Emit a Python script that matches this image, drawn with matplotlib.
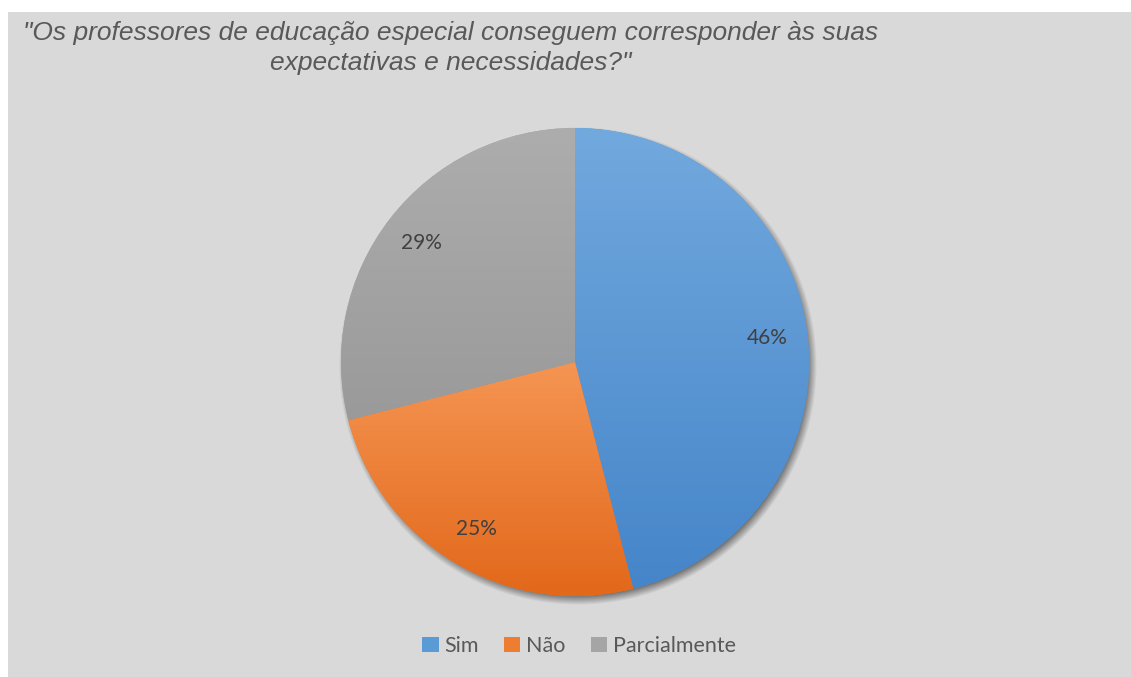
import numpy as np
import matplotlib
matplotlib.use('Agg')
import matplotlib.pyplot as plt
from matplotlib.patches import Rectangle
from matplotlib.colors import LinearSegmentedColormap

categories = ['Sim', 'Não', 'Parcialmente']
values = [46, 25, 29]
title = '"Os professores de educação especial conseguem corresponder às suas\nexpectativas e necessidades?"'

top_colors = ['#72a9de', '#f59553', '#adadad']
bottom_colors = ['#4585c9', '#e2681a', '#9a9a9a']
legend_colors = ['#5b9bd5', '#ed7d31', '#a5a5a5']

W, H = 1131, 677
fig = plt.figure(figsize=(W / 100, H / 100), dpi=100)
fig.patch.set_facecolor('white')
ax = fig.add_axes([0, 0, 1, 1])

cx, cy, R = 575, H - 362, 234

wedges, texts, autotexts = ax.pie(
    values, startangle=90, counterclock=False, center=(cx, cy), radius=R,
    autopct='%1.0f%%', pctdistance=0.83,
    colors=legend_colors,
    wedgeprops=dict(edgecolor='none', zorder=3),
    textprops=dict(fontsize=15, color='#404040', family='Lato'))

ax.set_xlim(0, W)
ax.set_ylim(0, H)
ax.set_aspect('auto')
ax.axis('off')

ax.add_patch(Rectangle((8, 0), W - 8, H - 12, facecolor='#d9d9d9',
                       edgecolor='none', zorder=0))

# soft shadow
yy, xx = np.mgrid[0:H, 0:W] + 0.5
d = np.hypot(xx - (cx + 3), yy - (cy - 4))
alpha = 0.5 * np.clip((R + 5 - d) / 10.0, 0, 1)
shadow = np.zeros((H, W, 4))
shadow[..., 3] = alpha
ax.imshow(shadow, extent=(0, W, 0, H), origin='lower', zorder=1,
          interpolation='bilinear', aspect='auto')

# gradient fills
for w, ct, cb in zip(wedges, top_colors, bottom_colors):
    bb = w.get_path().get_extents()
    cmap = LinearSegmentedColormap.from_list('g', [cb, ct])
    grad = np.linspace(0, 1, 256).reshape(-1, 1)
    im = ax.imshow(grad, cmap=cmap, extent=(bb.x0, bb.x1, bb.y0, bb.y1),
                   origin='lower', aspect='auto', zorder=4)
    im.set_clip_path(w)

for t in autotexts:
    t.set_zorder(6)

ax.set_xlim(0, W)
ax.set_ylim(0, H)

fig.text(451 / W, 1 - 48 / H, title, ha='center', va='center',
         multialignment='center', fontsize=19, style='italic',
         family='Liberation Sans', color='#595959', linespacing=1.35)

handles = [Rectangle((0, 0), 1, 1, facecolor=c, edgecolor='none') for c in legend_colors]
leg = fig.legend(handles, categories, loc='center', bbox_to_anchor=(579 / W, 1 - 646 / H),
                 ncol=3, frameon=False, handlelength=0.75, handleheight=0.75,
                 handletextpad=0.25, columnspacing=1.2,
                 prop=dict(family='Lato', size=15.5))
for t in leg.get_texts():
    t.set_color('#595959')

fig.savefig('out.png', dpi=100, facecolor='white')
